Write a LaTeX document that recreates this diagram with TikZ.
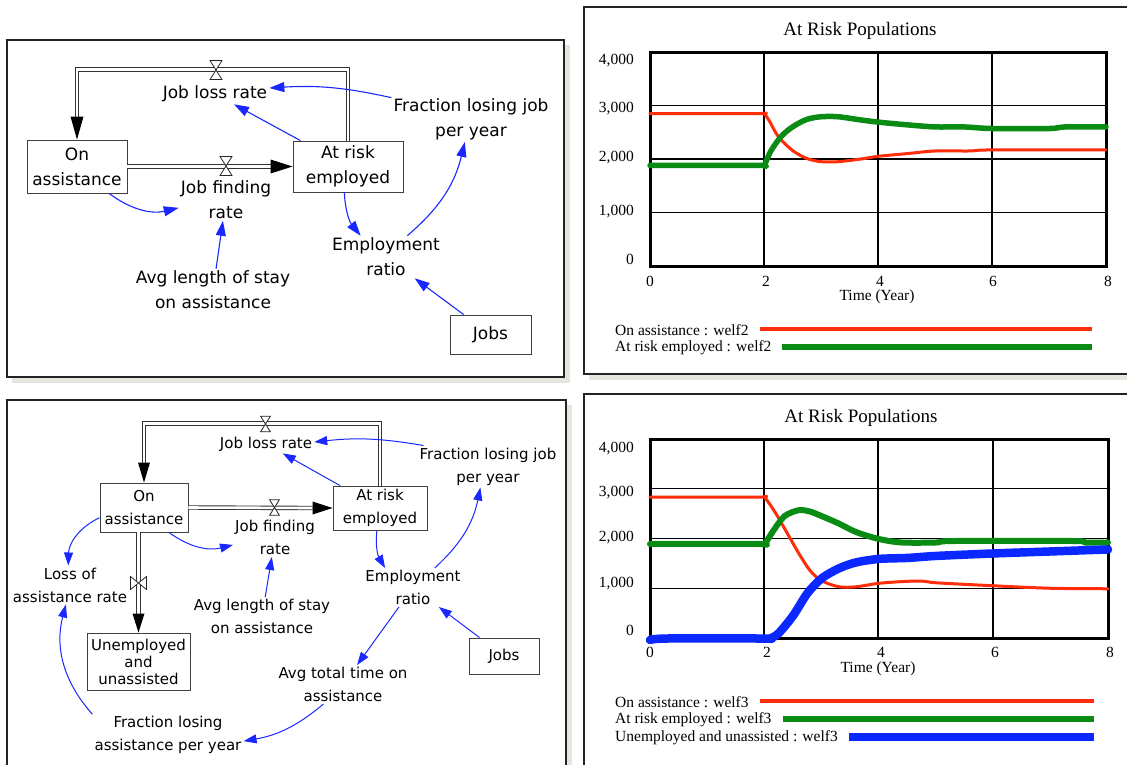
\documentclass[tikz,border=0pt]{standalone}
\usepackage{fontspec}
\setmainfont{DejaVu Sans}
\newfontfamily\chartfont{Liberation Serif}
\usetikzlibrary{arrows.meta,calc}
\definecolor{arrowblue}{RGB}{25,40,255}
\definecolor{cred}{RGB}{255,45,10}
\definecolor{cgreen}{RGB}{10,140,20}
\definecolor{cblue}{RGB}{10,40,255}
\definecolor{shadowc}{RGB}{230,230,222}
\definecolor{framec}{RGB}{35,35,35}
\begin{document}
\begin{tikzpicture}[x=1pt,y=-1pt,
  panel/.style={draw=framec, line width=1.8pt, fill=white},
  shadowbox/.style={fill=shadowc, draw=none},
  stock/.style={draw=black!75, line width=0.9pt, fill=white, align=center, inner sep=0pt},
  var/.style={align=center, inner sep=2pt},
  info/.style={draw=arrowblue, line width=1.1pt, -{Triangle[length=15pt,width=10pt]}},
  infosm/.style={draw=arrowblue, line width=1pt, -{Triangle[length=13pt,width=9pt]}},
  pipe/.style={draw=black!80, line width=0.9pt, double=white, double distance=2.6pt},
  tipfill/.style={fill=black},
  valveh/.pic={\draw[black!85, line width=0.8pt, fill=white, line join=miter] (-6,-9.5) -- (6,-9.5) -- (-6,9.5) -- (6,9.5) -- cycle;},
  valvev/.pic={\draw[black!85, line width=0.8pt, fill=white, line join=miter] (-8,-6.5) -- (-8,6.5) -- (8,-6.5) -- (8,6.5) -- cycle;},
  grid/.style={draw=black, line width=1.3pt},
  plotframe/.style={draw=black, line width=3pt},
  lab/.style={font=\chartfont\fontsize{15.5}{17}\selectfont, inner sep=0pt},
  ttl/.style={font=\chartfont\fontsize{19}{21}\selectfont, inner sep=0pt},
  curve/.style={line join=round, line cap=round}
]
\useasboundingbox (0,0) rectangle (1127,764);
\fill[white] (0,0) rectangle (1127,764);

% ---------- panels ----------
\fill[shadowbox] (12,45) rectangle (570,383);
\draw[panel] (7,40) rectangle (564,377);
\fill[shadowbox] (12,405) rectangle (572,780);
\draw[panel] (7,400) rectangle (566,790);
\fill[shadowbox] (589,12) rectangle (1140,380);
\draw[panel] (584,7) rectangle (1140,374);
\draw[panel] (584,394) rectangle (1140,790);

% ---------- top-left diagram ----------
\begin{scope}[font=\fontsize{17}{25}\selectfont]
\node[stock, minimum width=100pt, minimum height=53pt] (onA) at (77,166.5) {On\\assistance};
\node[stock, minimum width=110pt, minimum height=51pt] (arA) at (348,166.5) {At risk\\employed};
\node[stock, minimum width=81pt, minimum height=39pt] (jobsA) at (490.5,334.5) {Jobs};
\node[var] (jlrA) at (215,94) {Job loss rate};
\node[var] (fracA) at (471,119) {Fraction losing job\\per year};
\node[var] (jfrA) at (226,199.5) {Job finding\\rate};
\node[var] (avgA) at (213,290) {Avg length of stay\\on assistance};
\node[var] (erA) at (386,257) {Employment\\ratio};
\end{scope}
\draw[pipe] (arA.north) -- ++(0,-71) -| ($(onA.north)+(0,-22)$);
\fill[tipfill] (onA.north) -- ++(-6.5,-23) -- ++(13,0) -- cycle;
\draw[pipe] (onA.east) -- ($(arA.west)+(-22,0)$);
\fill[tipfill] (arA.west) -- ++(-22,-7) -- ++(0,14) -- cycle;
\pic (vA1) at (216,70) {valveh};
\pic (vA2) at (226,166) {valveh};
\draw[info] (arA) -- (jlrA);
\draw[info] (fracA.165) to[bend right=8] ($(jlrA.east)+(0,-6)$);
\draw[info] (onA.320) to[bend right=25] (jfrA.190);
\draw[info] (avgA) -- (jfrA);
\draw[info] (arA.262) to[bend right=18] (erA.140);
\draw[info] (erA.45) to[bend right=18] (fracA.255);
\draw[info] (jobsA) -- (erA);

% ---------- bottom-left diagram ----------
\begin{scope}[font=\fontsize{15}{23}\selectfont]
\node[stock, minimum width=88pt, minimum height=49pt] (onB) at (144,507.5) {On\\assistance};
\node[stock, minimum width=94pt, minimum height=44pt] (arB) at (380,508) {At risk\\employed};
\node[stock, minimum width=103pt, minimum height=57pt, font=\fontsize{15}{17}\selectfont] (uuB) at (138.5,661.5) {Unemployed\\and\\unassisted};
\node[stock, minimum width=70pt, minimum height=36pt] (jobsB) at (504,656) {Jobs};
\node[var] (jlrB) at (266,444) {Job loss rate};
\node[var] (fracB) at (488,466.5) {Fraction losing job\\per year};
\node[var] (jfrB) at (275,537.5) {Job finding\\rate};
\node[var] (loaB) at (70,585) {Loss of\\assistance rate};
\node[var] (avgB) at (262,616.5) {Avg length of stay\\on assistance};
\node[var] (erB) at (413,587.5) {Employment\\ratio};
\node[var] (attB) at (343,684.5) {Avg total time on\\assistance};
\node[var] (flaB) at (168,734.5) {Fraction losing\\assistance per year};
\end{scope}
\draw[pipe] (arB.north) -- ++(0,-62) -| ($(onB.north)+(0,-20)$);
\fill[tipfill] (onB.north) -- ++(-6,-20) -- ++(12,0) -- cycle;
\draw[pipe] (onB.east) -- ($(arB.west)+(-20,0)$);
\fill[tipfill] (arB.west) -- ++(-20,-6.5) -- ++(0,13) -- cycle;
\draw[pipe] (onB.south -| uuB.north) -- ($(uuB.north)+(0,-19)$);
\fill[tipfill] (uuB.north) -- ++(-6,-19) -- ++(12,0) -- cycle;
\pic[scale=0.82] (vB1) at (265.5,424) {valveh};
\pic[scale=0.82] (vB2) at (274.5,507.5) {valveh};
\pic (vB3) at (138.5,583) {valvev};
\draw[infosm] (arB) -- (jlrB);
\draw[infosm] (fracB.162) to[bend right=8] ($(jlrB.east)+(0,-2)$);
\draw[infosm] (onB.-45) to[bend right=25] (jfrB.190);
\draw[infosm] (avgB) -- (jfrB);
\draw[infosm] (arB.262) to[bend right=18] (erB.145);
\draw[infosm] (erB.42) to[bend right=18] (fracB.250);
\draw[infosm] (jobsB) -- (erB);
\draw[infosm] (erB) -- (attB);
\draw[infosm] (attB.225) to[bend left=15] (flaB.-5);
\draw[infosm] (flaB.165) to[bend left=28] (loaB.258);
\draw[infosm] (onB.193) to[bend right=32] (loaB.95);

% ---------- top-right chart ----------
\node[ttl] (tT) at (860,31) {At Risk Populations};
\draw[grid] (764,52) -- (764,266) (878,52) -- (878,266) (992,52) -- (992,266);
\draw[grid] (650,105.5) -- (1106,105.5) (650,159) -- (1106,159) (650,212.5) -- (1106,212.5);
\draw[plotframe] (650,52) rectangle (1106,266);
\node[lab, anchor=east] (tY4) at (634,61) {4,000};
\node[lab, anchor=east] (tY3) at (634,109) {3,000};
\node[lab, anchor=east] (tY2) at (634,158) {2,000};
\node[lab, anchor=east] (tY1) at (634,212) {1,000};
\node[lab, anchor=east] (tY0) at (634,259) {0};
\node[lab] (tX0) at (650,281) {0};
\node[lab] (tX2) at (766,281) {2};
\node[lab] (tX4) at (880,281) {4};
\node[lab] (tX6) at (993,281) {6};
\node[lab] (tX8) at (1108,281) {8};
\node[lab] (tXt) at (877,297) {Time (Year)};
\node[lab, anchor=west] (tL1) at (615,330) {On assistance : welf2};
\node[lab, anchor=west] (tL2) at (615,348) {At risk employed : welf2};
\draw[cred, line width=3.2pt] (760,329) -- (1092,329);
\draw[cgreen, line width=5.5pt] (782,347) -- (1092,347);
\begin{scope}[shift={(650,266)}, x=57pt, y=0.0535pt]
\draw[curve, cred, line width=3pt] plot[smooth, tension=0.5] coordinates {(0,2850) (1.9,2850) (2,2850) (2.1,2700) (2.25,2420) (2.5,2160) (2.75,2010) (3,1950) (3.3,1950) (3.7,2000) (4,2050) (4.5,2100) (5,2150) (5.6,2150) (6,2170) (8,2170)};
\draw[curve, cgreen, line width=5.5pt] plot[smooth, tension=0.5] coordinates {(0,1880) (1.9,1880) (2,1880) (2.12,2150) (2.3,2420) (2.5,2600) (2.75,2740) (3,2790) (3.3,2790) (3.7,2730) (4,2690) (4.5,2640) (5,2600) (5.5,2600) (6,2570) (7,2570) (7.3,2600) (8,2600)};
\end{scope}

% ---------- bottom-right chart ----------
\node[ttl] (bT) at (861,418) {At Risk Populations};
\draw[grid] (764,439) -- (764,638) (878,439) -- (878,638) (993,439) -- (993,638);
\draw[grid] (650,488.5) -- (1108,488.5) (650,538.5) -- (1108,538.5) (650,588.5) -- (1108,588.5);
\draw[plotframe] (650,439) rectangle (1108,638);
\node[lab, anchor=east] (bY4) at (634,449) {4,000};
\node[lab, anchor=east] (bY3) at (634,493) {3,000};
\node[lab, anchor=east] (bY2) at (634,538) {2,000};
\node[lab, anchor=east] (bY1) at (634,584) {1,000};
\node[lab, anchor=east] (bY0) at (634,630) {0};
\node[lab] (bX0) at (650,652) {0};
\node[lab] (bX2) at (767,652) {2};
\node[lab] (bX4) at (881,652) {4};
\node[lab] (bX6) at (995,652) {6};
\node[lab] (bX8) at (1110,652) {8};
\node[lab] (bXt) at (878,669) {Time (Year)};
\node[lab, anchor=west] (bL1) at (615,702) {On assistance : welf3};
\node[lab, anchor=west] (bL2) at (615,720) {At risk employed : welf3};
\node[lab, anchor=west] (bL3) at (615,738) {Unemployed and unassisted : welf3};
\draw[cred, line width=3.2pt] (760,701) -- (1094,701);
\draw[cgreen, line width=5.5pt] (783,719) -- (1094,719);
\draw[cblue, line width=8pt] (849,737) -- (1094,737);
\begin{scope}[shift={(650,638)}, x=57.25pt, y=0.04975pt]
\draw[curve, cred, line width=3pt] plot[smooth, tension=0.5] coordinates {(0,2830) (1.9,2830) (2,2830) (2.2,2500) (2.4,2100) (2.6,1700) (2.8,1350) (3,1150) (3.3,1030) (3.6,1030) (4,1100) (4.5,1140) (4.8,1140) (5,1110) (6,1050) (7,1000) (8,990)};
\draw[curve, cgreen, line width=6pt] plot[smooth, tension=0.5] coordinates {(0,1890) (1.9,1890) (2,1890) (2.15,2150) (2.35,2450) (2.6,2570) (2.8,2540) (3,2450) (3.3,2300) (3.6,2130) (4,1990) (4.4,1920) (5,1920) (5.3,1950) (7.4,1950) (7.6,1920) (8,1920)};
\draw[curve, cblue, line width=8.5pt] plot[smooth, tension=0.5] coordinates {(0,-40) (0.3,-10) (2,-10) (2.1,-10) (2.25,100) (2.5,450) (2.75,900) (3,1200) (3.3,1400) (3.6,1520) (4,1590) (4.5,1610) (5,1650) (6,1700) (7,1740) (8,1780)};
\end{scope}
\end{tikzpicture}
\end{document}
